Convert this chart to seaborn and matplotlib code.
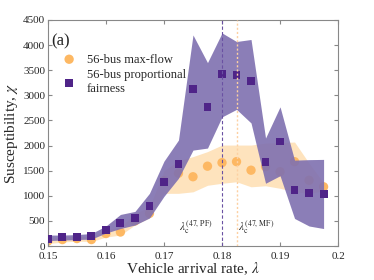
import numpy as np
import pandas as pd
import matplotlib
matplotlib.use('Agg')
import matplotlib.pyplot as plt
import seaborn as sns

# arrival rates
lam = [0.15, 0.1525, 0.155, 0.1575, 0.16, 0.1625, 0.165, 0.1675, 0.17, 0.1725,
       0.175, 0.1775, 0.18, 0.1825, 0.185, 0.1875, 0.19, 0.1925, 0.195, 0.1975]

# max-flow susceptibility (mean, band)
mf_mean = [100, 130, 150, 130, 250, 280, 500, 650, 1300, 1450,
           1380, 1590, 1660, 1680, 1510, 1580, 1480, 1680, 1310, 1180]
mf_low = [50, 80, 100, 90, 180, 220, 420, 560, 1050, 1050,
          1080, 1210, 1250, 1280, 1180, 1200, 1150, 1080, 1050, 1100]
mf_high = [160, 180, 200, 180, 320, 380, 650, 780, 1500, 1700,
           1780, 1880, 2010, 2010, 2010, 2050, 2060, 2070, 1650, 1260]

# proportional fairness susceptibility (mean, band)
pf_mean = [150, 180, 175, 195, 320, 465, 560, 800, 1280, 1630,
           3120, 2770, 3420, 3400, 3290, 1670, 2080, 1110, 1050, 1045]
pf_low = [110, 120, 130, 140, 260, 350, 420, 560, 990, 1350,
          1910, 1950, 2570, 2720, 2450, 1250, 1400, 550, 400, 350]
pf_high = [220, 220, 230, 250, 400, 630, 690, 1050, 1690, 2110,
           4200, 3650, 4240, 4070, 4110, 2150, 2770, 1710, 1720, 1725]

lam_pf = 0.18
lam_mf = 0.1825

c_mf = '#fdb863'
c_mf_band = '#fee0b6'
c_pf = '#4f2488'
c_pf_band = '#7f70b0'

sns.set_style('ticks')
plt.rcParams['font.family'] = ['Liberation Serif', 'DejaVu Serif']
plt.rcParams['mathtext.fontset'] = 'stix'

df = pd.DataFrame({'lam': lam, 'mf': mf_mean, 'pf': pf_mean})

fig = plt.figure(figsize=(3.74, 2.8), dpi=100)
ax = fig.add_axes([0.128, 0.121, 0.776, 0.808])

ax.fill_between(lam, mf_low, mf_high, color=c_mf_band, alpha=0.9, lw=0, zorder=1)
sns.scatterplot(data=df, x='lam', y='mf', ax=ax, color=c_mf, marker='o', s=45,
                edgecolor='none', label='56-bus max-flow', zorder=2)
ax.fill_between(lam, pf_low, pf_high, color=c_pf_band, alpha=0.9, lw=0, zorder=3)
sns.scatterplot(data=df, x='lam', y='pf', ax=ax, color=c_pf, marker='s', s=32,
                edgecolor='none', label='56-bus proportional\nfairness', zorder=4)

ax.axvline(lam_pf, color='#6a51a3', ls=(0, (3, 2)), lw=0.8, zorder=5)
ax.axvline(lam_mf, color='#fdd0a2', ls=(0, (1.5, 1.5)), lw=1.0, zorder=5)

ax.text(0.1784, 380, r'$\lambda_{\rm c}^{(47,\,\rm PF)}$', ha='right', va='center', fontsize=8)
ax.text(0.1828, 380, r'$\lambda_{\rm c}^{(47,\,\rm MF)}$', ha='left', va='center', fontsize=8)
ax.text(0.1505, 4230, '(a)', fontsize=12, ha='left', va='top')

ax.set_xlim(0.15, 0.2)
ax.set_ylim(0, 4500)
ax.set_xticks([0.15, 0.16, 0.17, 0.18, 0.19, 0.2])
ax.set_xticklabels(['0.15', '0.16', '0.17', '0.18', '0.19', '0.2'])
ax.set_yticks(np.arange(0, 4501, 500))
ax.tick_params(direction='in', top=True, right=True, labelsize=8, length=3,
               color='#888888', pad=2)
ax.tick_params(axis='x', pad=4)
for sp in ax.spines.values():
    sp.set_color('#888888')
ax.set_xlabel(r'Vehicle arrival rate, $\lambda$', fontsize=11, labelpad=0)
ax.set_ylabel(r'Susceptibility, $\chi$', fontsize=11, labelpad=2)

ax.legend(loc='upper left', bbox_to_anchor=(0.0, 0.89), frameon=False, fontsize=9,
          handletextpad=0.4, labelspacing=0.3, borderaxespad=0.3)

fig.savefig('out.png', dpi=100)
